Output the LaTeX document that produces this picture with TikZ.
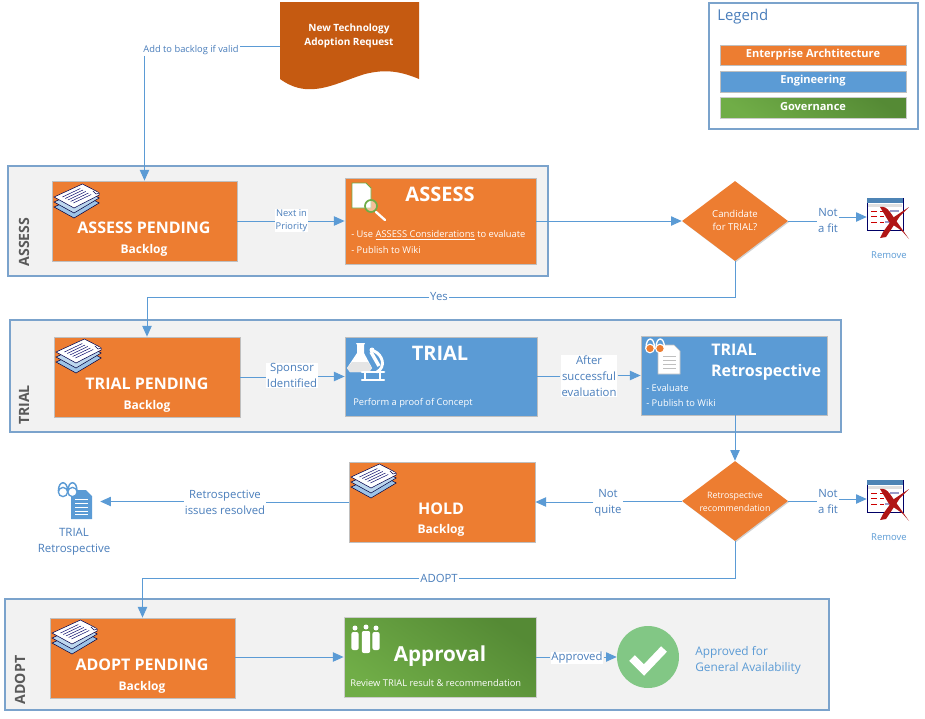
\documentclass[tikz,border=0pt]{standalone}
\usepackage{fontspec}
\setmainfont{Open Sans}
\usetikzlibrary{arrows.meta,shapes.geometric,shadows}
\definecolor{orng}{HTML}{ED7D31}
\definecolor{blu}{HTML}{5B9BD5}
\definecolor{grnA}{HTML}{70AD47}
\definecolor{grnB}{HTML}{558A35}
\definecolor{rust}{HTML}{C55A11}
\definecolor{secfill}{HTML}{F2F2F2}
\definecolor{secline}{HTML}{7BA3CC}
\definecolor{linkc}{HTML}{5B9BD5}
\definecolor{lab}{HTML}{4A7EBB}
\definecolor{okc}{HTML}{82C785}
\definecolor{xred}{HTML}{B01515}
\tikzset{
  softshadow/.style={drop shadow={shadow xshift=.8pt,shadow yshift=-.8pt,fill=black,opacity=.18}},
  section/.style={draw=secline,fill=secfill,line width=.9pt,softshadow},
  orbox/.style={fill=orng,draw=black!25,line width=.6pt,softshadow},
  blbox/.style={fill=blu,draw=black!25,line width=.6pt,softshadow},
  grbox/.style={left color=grnA,right color=grnB,shading angle=145,draw=black!20,line width=.6pt,softshadow},
  legendbox/.style={fill=white,draw=secline,line width=.9pt,softshadow},
  conn/.style={draw=linkc,line width=.75pt},
  arr/.style={conn,-{Triangle[length=8pt,width=7pt]}},
  lbl/.style={fill=white,text=lab,align=center,font=\fontsize{8.5}{12}\selectfont,inner sep=.6pt},
  lblsm/.style={lbl,font=\fontsize{7}{9.8}\selectfont},
  wt/.style={text=white,inner sep=0pt,align=center},
  big/.style={wt,font=\fontsize{12}{14}\selectfont\bfseries},
  sub/.style={wt,font=\fontsize{9}{11}\selectfont\bfseries},
  small/.style={wt,anchor=west,font=\fontsize{7}{9}\selectfont},
  seclab/.style={rotate=90,text=black!65,inner sep=0pt,font=\fontsize{10.6}{12}\selectfont\bfseries},
  plain/.style={text=lab,inner sep=0pt,align=center,font=\fontsize{7.1}{12}\selectfont},
  leglab/.style={wt,font=\fontsize{8.3}{9}\selectfont\bfseries},
  dia/.style={diamond,shape aspect=1.325,inner sep=0pt,minimum width=79.5pt,minimum height=60pt,fill=orng,text=white,align=center,softshadow},
}
% name, x1,y1,x2,y2 in pixels
\newcommand\bx[6][]{%
  \pgfmathsetmacro\bw{(#5-#3)*0.75}\pgfmathsetmacro\bh{(#6-#4)*0.75}%
  \node[#1,inner sep=0pt,minimum width=\bw pt,minimum height=\bh pt] (#2) at ({(#3+#5)/2},{(#4+#6)/2}) {};}
\newcommand\paperstack[2]{%
\begin{scope}[shift={(#1,#2)},xscale=1.05]
 \foreach \o/\c in {10/9DC3E6,5/BDD7EE}{
   \definecolor{tmpc}{HTML}{\c}
   \draw[fill=tmpc,draw=black!75!blue,line width=.4pt] (1,13+\o) -- (28,\o) -- (44,9+\o) -- (20,24+\o) -- cycle;}
 \draw[fill=white,draw=black!70!blue,line width=.4pt] (1,13) -- (28,0) -- (41,7) -- (44,9) -- (44,11) -- (20,24) -- cycle;
 \draw[fill=white,draw=black!70!blue,line width=.4pt] (38,7) -- (41,10) -- (44,9);
 \foreach \k in {0,1,2,3,4}
   \draw[draw=black!60!blue,line width=.35pt] (9+2.6*\k,13+1.5*\k) -- (26+2.6*\k,4.5+1.5*\k);
\end{scope}}
\newcommand\removeicon[2]{%
\begin{scope}[shift={(#1,#2)}]
 \draw[draw=black!60!blue,fill=white,line width=.5pt] (0,0) rectangle (36,32);
 \fill[blu!85!black] (0,0) rectangle (36,5);
 \fill[black!12] (1,5.5) rectangle (35,9);
 \foreach \yy/\c in {13,18,24}{
   \draw[red!80!black,line width=.7pt] (4,\yy) -- (10,\yy);
   \draw[red!80!black,line width=.7pt] (13,\yy) -- (17,\yy);}
 \draw[blue!30!gray!60,line width=.8pt] (23,13) -- (32,13);
 \draw[blue!30!gray!60,line width=.8pt] (18,24) -- (28,24);
 \fill[xred] (13,9) .. controls (17,8) and (20,10) .. (23,14) -- (42,41) -- (35,33) -- (22,24) -- cycle;
 \fill[xred] (42,9) -- (33,18) -- (19,39) -- (13,40) -- (16,34) -- (27,19) -- cycle;
\end{scope}}
\begin{document}
\begin{tikzpicture}[x=0.75pt,y=-0.75pt]
\useasboundingbox (0,0) rectangle (925,718);
\fill[white] (0,0) rectangle (925,718);
% sections
\bx[section]{secA}{8}{166}{548}{276}
\bx[section]{secT}{10}{320}{841}{432}
\bx[section]{secD}{5}{599}{829}{710}
\node[seclab] (lsA) at (24,242) {ASSESS};
\node[seclab] (lsT) at (24,405) {TRIAL};
\node[seclab] (lsD) at (20,680) {ADOPT};
% legend
\bx[legendbox]{leg}{709}{3}{918}{129}
\node[anchor=west,text=lab,inner sep=0pt,font=\fontsize{11.2}{13}\selectfont] (legt) at (717,17) {Legend};
\bx[orbox]{l1}{720}{45}{906}{65}
\bx[blbox]{l2}{720}{71}{906}{92}
\bx[grbox]{l3}{720}{97}{906}{118}
\node[leglab] (l1t) at (813,55) {Enterprise Archtitecture};
\node[leglab] (l2t) at (813,81) {Engineering};
\node[leglab] (l3t) at (813,107) {Governance};
% request document
\fill[rust] (280,2) -- (419,2) -- (419,79) .. controls (400,71) and (385,69) .. (365,74) .. controls (345,80) and (325,91) .. (305,89) .. controls (295,88) and (287,84) .. (280,79) -- cycle;
\bx{doc}{280}{2}{419}{90}
\node[wt,font=\fontsize{7.5}{10.5}\selectfont\bfseries] (doct) at (349,36) {New Technology\\Adoption Request};
% main boxes
\bx[orbox]{ap}{52}{181}{237}{261}
\bx[orbox]{as}{345}{178}{536}{264}
\node[dia] (d1) at (735,221) {};
\bx{rm1}{867}{198}{904}{236}
\bx[orbox]{tp}{54}{337}{240}{417}
\bx[blbox]{tr}{345}{337}{537}{416}
\bx[blbox]{re}{641}{336}{827}{415}
\bx[orbox]{ho}{349}{462}{535}{542}
\node[dia] (d2) at (735,501) {};
\bx{rm2}{867}{480}{904}{518}
\bx{ri}{57}{483}{100}{520}
\bx[orbox]{dp}{50}{618}{235}{698}
\bx[grbox]{ok}{344}{617}{536}{697}
\node[circle,fill=okc,inner sep=0pt,minimum size=46.5pt] (done) at (648,657) {};
% box texts
\node[big] (t1) at (144,228) {ASSESS PENDING};
\node[sub] (t2) at (144,250) {Backlog};
\node[wt,font=\fontsize{15}{18}\selectfont\bfseries] (t3) at (440,194) {ASSESS};
\node[small] (t4) at (351,235) {- Use \underline{ASSESS Considerations} to evaluate};
\node[small] (t5) at (351,250) {- Publish to Wiki};
\node[wt,font=\fontsize{7.2}{9.8}\selectfont] (t6) at (735,220.5) {Candidate\\for TRIAL?};
\node[big] (t7) at (147,384) {TRIAL PENDING};
\node[sub] (t8) at (147,406) {Backlog};
\node[wt,font=\fontsize{15}{18}\selectfont\bfseries] (t9) at (440,353) {TRIAL};
\node[small] (t10) at (353,403) {Perform a proof of Concept};
\node[wt,font=\fontsize{12}{14}\selectfont\bfseries] (t11) at (734,349.5) {TRIAL};
\node[wt,font=\fontsize{12}{14}\selectfont\bfseries] (t12) at (766,372) {Retrospective};
\node[small] (t13) at (646,388) {- Evaluate};
\node[small] (t14) at (646,403) {- Publish to Wiki};
\node[big] (t15) at (441,509) {HOLD};
\node[sub] (t16) at (441,530) {Backlog};
\node[wt,font=\fontsize{6.6}{9.8}\selectfont] (t17) at (735,501.5) {Retrospective\\recommendation};
\node[big] (t18) at (142,665) {ADOPT PENDING};
\node[sub] (t19) at (142,687) {Backlog};
\node[wt,font=\fontsize{15.5}{20}\selectfont\bfseries] (t20) at (440,656) {Approval};
\node[small] (t21) at (350,683) {Review TRIAL result \& recommendation};
\node[plain,text=linkc] (t22) at (889,255) {Remove};
\node[plain,text=linkc] (t23) at (889,537) {Remove};
\node[plain,font=\fontsize{8.6}{12}\selectfont] (t24) at (74,541.5) {TRIAL\\Retrospective};
\node[plain,text=linkc,anchor=west,align=left,font=\fontsize{8.9}{12}\selectfont] (t25) at (695,660) {Approved for\\General Availability};
% connector labels
\node[lblsm] (c1) at (191,50) {Add to backlog if valid};
\node[lblsm] (c2) at (291.5,220.5) {Next in\\Priority};
\node[lbl] (c3) at (828,221) {Not\\a fit};
\node[lbl] (c4) at (439,297) {Yes};
\node[lbl] (c5) at (292,375.5) {Sponsor\\Identified};
\node[lbl] (c6) at (589,376) {After\\successful\\evaluation};
\node[lbl] (c7) at (828,502) {Not\\a fit};
\node[lbl] (c8) at (608,503) {Not\\quite};
\node[lbl] (c9) at (225,502) {Retrospective\\issues resolved};
\node[lbl] (c10) at (439,578) {ADOPT};
\node[lbl] (c11) at (577,658) {Approved};
% connectors
\draw[conn] (doc.west) -- (c1.east |- doc.west);
\draw[arr] (c1.south -| ap.north) -- (ap.north);
\draw[conn] (ap.east) -- (c2.west |- ap.east);
\draw[arr] (c2.east |- as.west) -- (as.west);
\draw[arr] (as.east) -- (d1.west);
\draw[conn] (d1.east) -- (c3.west |- d1.east);
\draw[arr] (c3.east |- rm1.west) -- (rm1.west);
\draw[conn] (d1.south) |- (c4.east);
\draw[arr] (c4.west) -| (tp.north);
\draw[conn] (tp.east) -- (c5.west |- tp.east);
\draw[arr] (c5.east |- tr.west) -- (tr.west);
\draw[conn] (tr.east) -- (c6.west |- tr.east);
\draw[arr] (c6.east |- re.west) -- (re.west);
\draw[arr] (d2.north |- re.south) -- (d2.north);
\draw[conn] (d2.east) -- (c7.west |- d2.east);
\draw[arr] (c7.east |- rm2.west) -- (rm2.west);
\draw[conn] (d2.west) -- (c8.east |- d2.west);
\draw[arr] (c8.west |- ho.east) -- (ho.east);
\draw[conn] (ho.west) -- (c9.east |- ho.west);
\draw[arr] (c9.west |- ri.east) -- (ri.east);
\draw[conn] (d2.south) |- (c10.east);
\draw[arr] (c10.west) -| (dp.north);
\draw[arr] (dp.east |- ok.west) -- (ok.west);
\draw[conn] (ok.east) -- (c11.west |- ok.east);
\draw[arr] (c11.east |- done.west) -- (done.west);
% icons
\paperstack{53}{184}
\paperstack{55}{339}
\paperstack{350}{464}
\paperstack{51}{620}
% assess doc + magnifier
\draw[fill=white,draw=grnA,line width=.7pt] (352,183) -- (366,183) -- (371,188) -- (371,208) -- (352,208) -- cycle;
\draw[white,line width=1.8pt,line cap=round] (376,212) -- (385,220);
\draw[fill=white,fill opacity=.5,draw=grnA,line width=1.3pt] (371,206) circle[radius=6];
% flask and microscope
\begin{scope}[shift={(347,343)}]
 \fill[white] (9,0) -- (18,0) -- (17,2) -- (17,10) -- (25,25) -- (22,29) -- (3,29) -- (0,25) -- (10,10) -- (10,2) -- cycle;
 \fill[black!10] (5,19) -- (21,19) -- (25,25) -- (22,29) -- (3,29) -- (0,25) -- cycle;
 \fill[white] (25,7) circle[radius=2.5];
 \draw[white,line width=2.2pt,line cap=round] (27,8) .. controls (36,12) and (39,24) .. (30,29);
 \draw[white,line width=2.6pt] (24,9) -- (32,23);
 \draw[white,line width=2pt,line cap=round] (15,29) -- (37,29);
 \draw[white,line width=1.8pt,line cap=round] (18,30) -- (18,36);
 \draw[white,line width=1.8pt,line cap=round] (33,30) -- (33,36);
 \draw[white,line width=1.8pt,line cap=round] (15,37) -- (37,37);
\end{scope}
% retrospective icon on blue box
\draw[fill=white,draw=black!25,line width=.5pt] (658,345) -- (674,345) -- (680,351) -- (680,374) -- (658,374) -- cycle;
\foreach \yy in {356,360,364,368}\draw[black!25,line width=.5pt] (663,\yy) -- (676,\yy);
\draw[white,line width=1pt] (646,348) .. controls (646,336) and (654.5,336) .. (654.5,348);
\draw[white,line width=1pt] (656,348) .. controls (656,336) and (664.5,336) .. (664.5,348);
\draw[fill=orng,draw=white,line width=.8pt] (650,348.5) circle[radius=4.3];
\draw[fill=orng,draw=white,line width=.8pt] (660,348.5) circle[radius=4.3];
% retrospective icon, free-standing
\fill[linkc] (71,490) -- (86,490) -- (92,496) -- (92,519) -- (71,519) -- cycle;
\foreach \yy in {499,503,507,511,514}\draw[white,line width=.5pt] (75,\yy) -- (88,\yy);
\draw[linkc,line width=1.1pt] (58.4,491) .. controls (58.4,480) and (67.6,480) .. (67.6,491);
\draw[linkc,line width=1.1pt] (68,491) .. controls (68,480) and (77,480) .. (77,491);
\draw[fill=white,draw=linkc,line width=1pt] (63,492) circle[radius=4.6];
\draw[fill=white,draw=linkc,line width=1pt] (72.5,492) circle[radius=4.6];
% people
\foreach \cx/\tp/\bt/\hw in {355/632/650/3.6,366/631/653/4.2,376/632/650/3.6}{
 \fill[white] (\cx,\tp-4) circle[radius=2.5];
 \fill[white,rounded corners=1.5pt] (\cx-\hw,\tp) rectangle (\cx+\hw,\bt);}
% check
\draw[white,line width=6pt] (632,658) -- (644,670) -- (664,649);
% remove icons
\removeicon{867}{198}
\removeicon{867}{480}
\end{tikzpicture}
\end{document}
